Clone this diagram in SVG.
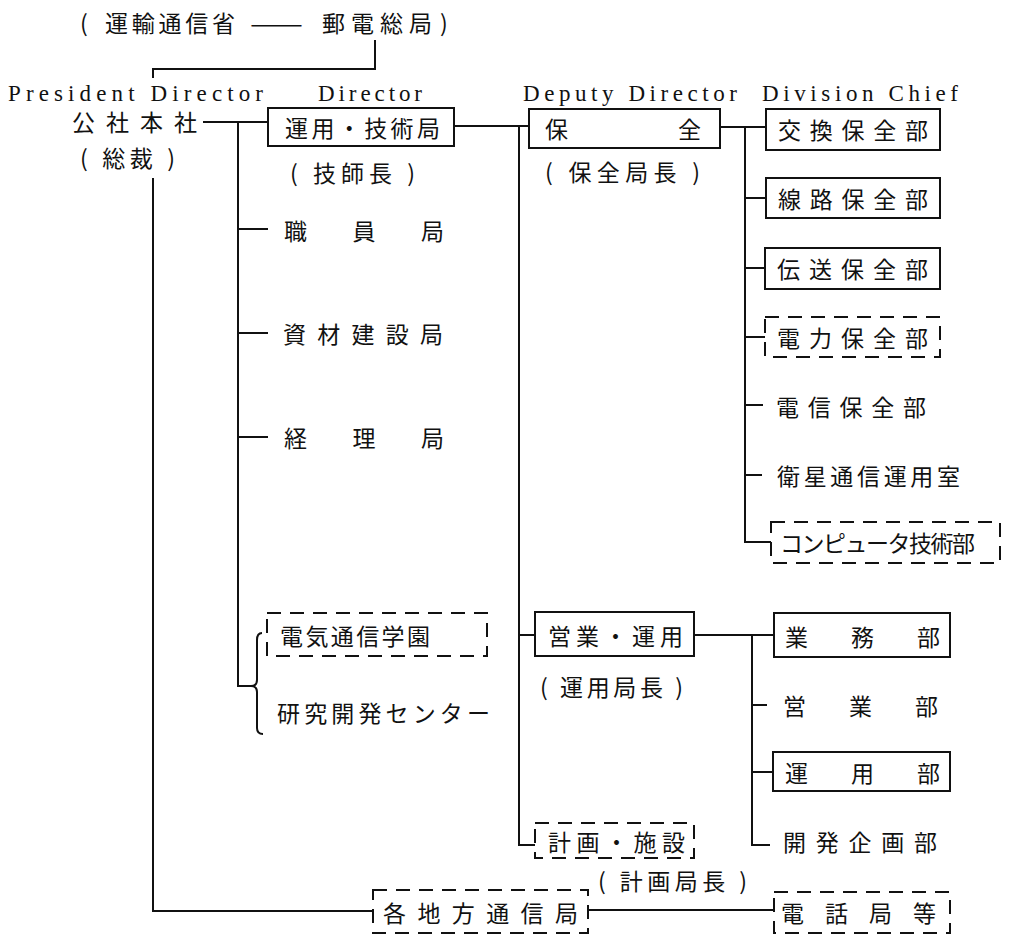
<svg xmlns="http://www.w3.org/2000/svg" width="1017" height="934" viewBox="0 0 1017 934">
<style>
.j{font-family:"Noto Sans CJK JP","Noto Sans CJK SC",sans-serif;font-size:23px;fill:#111;dominant-baseline:central}
.e{font-family:"Liberation Serif",serif;font-size:23px;fill:#111}
.b{fill:none;stroke:#111;stroke-width:2}
.d{fill:none;stroke:#111;stroke-width:2;stroke-dasharray:14 9}
.c{fill:none;stroke:#111;stroke-width:2}
</style>
<rect width="1017" height="934" fill="#fff"/>
<g id="top">
<text class="j"><tspan x="80" y="22">(</tspan><tspan x="105" y="22" textLength="130" lengthAdjust="spacing">運輸通信省</tspan><tspan x="250" y="22" textLength="53" lengthAdjust="spacingAndGlyphs">——</tspan><tspan x="322" y="22" textLength="110" lengthAdjust="spacing">郵電総局</tspan><tspan x="440" y="22">)</tspan></text>
</g>
<g id="headers">
<text class="e" x="8" y="101" textLength="255" lengthAdjust="spacing">President Director</text>
<text class="e" x="318" y="101" textLength="104" lengthAdjust="spacing">Director</text>
<text class="e" x="523" y="101" textLength="214" lengthAdjust="spacing">Deputy Director</text>
<text class="e" x="762" y="101" textLength="196" lengthAdjust="spacing">Division Chief</text>
</g>
<g id="connectors">
<path class="c" d="M375,40 V69 H153 V78"/>
<path class="c" d="M153,178 V911 H373"/>
<path class="c" d="M203,122 H268"/>
<path class="c" d="M238,122 V686 H252"/>
<path class="c" d="M238,229 H268 M238,333 H268 M238,437 H268"/>
<path class="c" d="M262,633 Q257,633 257,640 V680 Q257,686 251,686 Q257,686 257,692 V728 Q257,734 263,734"/>
<path class="c" d="M454,126 H529"/>
<path class="c" d="M519,126 V845 H535 M519,635 H535"/>
<path class="c" d="M720,127 H766"/>
<path class="c" d="M745,127 V542 H771 M745,198 H766 M745,268 H765 M745,337 H765 M745,405 H763 M745,475 H762"/>
<path class="c" d="M694,635 H774"/>
<path class="c" d="M752,635 V845 H770 M752,705 H767 M752,772 H773"/>
<path class="c" d="M588,910 H774"/>
</g>
<g id="n-honsha">
<text class="j" x="72" y="121" textLength="125" lengthAdjust="spacing">公社本社</text>
<text class="j" x="80" y="157" textLength="95" lengthAdjust="spacing">( 総裁 )</text>
</g>
<g id="n-unyo-gijutsu">
<rect class="b" x="268" y="108" width="186" height="38"/>
<text class="j" x="285" y="127" textLength="155" lengthAdjust="spacing">運用・技術局</text>
<text class="j" x="290" y="172" textLength="125" lengthAdjust="spacing">( 技師長 )</text>
</g>
<g id="n-shokuin"><text class="j" x="284" y="230" textLength="160" lengthAdjust="spacing">職員局</text></g>
<g id="n-shizai"><text class="j" x="283" y="333" textLength="160" lengthAdjust="spacing">資材建設局</text></g>
<g id="n-keiri"><text class="j" x="284" y="437" textLength="160" lengthAdjust="spacing">経理局</text></g>
<g id="n-gakuen">
<rect class="d" x="267" y="613" width="220" height="43"/>
<text class="j" x="280" y="635" textLength="150" lengthAdjust="spacing">電気通信学園</text>
</g>
<g id="n-kenkyu"><text class="j" x="277" y="712" textLength="213" lengthAdjust="spacing">研究開発センター</text></g>
<g id="n-hozen">
<rect class="b" x="529" y="109" width="191" height="39"/>
<text class="j" x="545" y="128" textLength="156" lengthAdjust="spacing">保全</text>
<text class="j" x="545" y="171" textLength="155" lengthAdjust="spacing">( 保全局長 )</text>
</g>
<g id="n-eigyo-unyo">
<rect class="b" x="535" y="612" width="159" height="44"/>
<text class="j" x="548" y="635" textLength="135" lengthAdjust="spacing">営業・運用</text>
<text class="j" x="540" y="686" textLength="143" lengthAdjust="spacing">( 運用局長 )</text>
</g>
<g id="n-keikaku">
<rect class="d" x="535" y="823" width="159" height="35"/>
<text class="j" x="548" y="841" textLength="137" lengthAdjust="spacing">計画・施設</text>
<text class="j" x="598" y="880" textLength="149" lengthAdjust="spacing">( 計画局長 )</text>
</g>
<g id="n-chiho">
<rect class="d" x="373" y="890" width="215" height="43"/>
<text class="j" x="383" y="912" textLength="195" lengthAdjust="spacing">各地方通信局</text>
</g>
<g id="n-kokan">
<rect class="b" x="766" y="109" width="174" height="41"/>
<text class="j" x="778" y="129" textLength="150" lengthAdjust="spacing">交換保全部</text>
</g>
<g id="n-senro">
<rect class="b" x="766" y="178" width="174" height="40"/>
<text class="j" x="778" y="198" textLength="150" lengthAdjust="spacing">線路保全部</text>
</g>
<g id="n-densou">
<rect class="b" x="765" y="248" width="175" height="41"/>
<text class="j" x="777" y="268" textLength="151" lengthAdjust="spacing">伝送保全部</text>
</g>
<g id="n-denryoku">
<rect class="d" x="765" y="317" width="175" height="40"/>
<text class="j" x="777" y="337" textLength="151" lengthAdjust="spacing">電力保全部</text>
</g>
<g id="n-denshin"><text class="j" x="776" y="406" textLength="150" lengthAdjust="spacing">電信保全部</text></g>
<g id="n-eisei"><text class="j" x="777" y="475" textLength="183" lengthAdjust="spacing">衛星通信運用室</text></g>
<g id="n-computer">
<rect class="d" x="771" y="522" width="229" height="41"/>
<text class="j" x="780" y="542" textLength="195" lengthAdjust="spacing">コンピュータ技術部</text>
</g>
<g id="n-gyomu">
<rect class="b" x="774" y="613" width="176" height="44"/>
<text class="j" x="785" y="636" textLength="155" lengthAdjust="spacing">業務部</text>
</g>
<g id="n-eigyo"><text class="j" x="783" y="705" textLength="155" lengthAdjust="spacing">営業部</text></g>
<g id="n-unyo">
<rect class="b" x="773" y="752" width="177" height="39"/>
<text class="j" x="785" y="772" textLength="155" lengthAdjust="spacing">運用部</text>
</g>
<g id="n-kaihatsu"><text class="j" x="783" y="841" textLength="154" lengthAdjust="spacing">開発企画部</text></g>
<g id="n-denwa">
<rect class="d" x="774" y="892" width="176" height="41"/>
<text class="j" x="781" y="912" textLength="155" lengthAdjust="spacing">電話局等</text>
</g>
</svg>
